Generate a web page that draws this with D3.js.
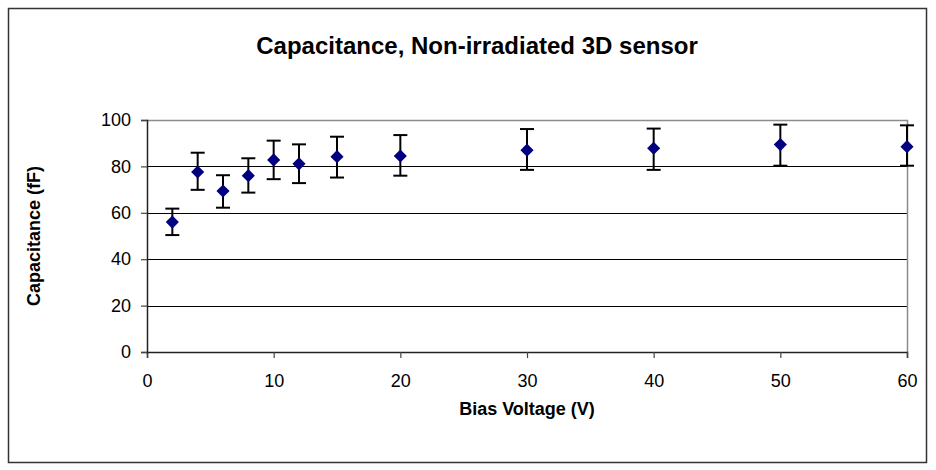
<!DOCTYPE html>
<html>
<head>
<meta charset="utf-8">
<script src="https://cdn.jsdelivr.net/npm/d3@7"></script>
<style>
  body { margin: 0; background: #fff; }
  svg { display: block; font-family: "Liberation Sans", Arial, sans-serif; }
</style>
</head>
<body>
<svg id="chart" width="936" height="470"></svg>
<script>
// data
var voltage = [2, 4, 6, 8, 10, 12, 15, 20, 30, 40, 50, 60]
var capacitance = [56.0, 77.6, 69.4, 76.0, 82.8, 81.1, 84.2, 84.5, 87.0, 87.8, 89.4, 88.5]
var errPlus = [5.8, 8.3, 6.8, 7.5, 8.3, 8.4, 8.6, 9.0, 9.1, 8.5, 8.6, 9.2]
var errMinus = [5.6, 7.7, 7.2, 7.3, 8.3, 8.3, 9.0, 8.5, 8.5, 9.3, 9.1, 8.2]
var xTicks = [0, 10, 20, 30, 40, 50, 60]
var yTicks = [0, 20, 40, 60, 80, 100]

const chart = {
    width: 936,
    height: 470,
    margin_top: 120,
    margin_right: 29,
    margin_bottom: 118,
    margin_left: 147
}

var svg = d3.select("#chart")

// outer frame
svg.append("rect")
    .attr("x", 8.5).attr("y", 8.5)
    .attr("width", 918).attr("height", 454)
    .attr("fill", "none")
    .attr("stroke", "#333")
    .attr("stroke-width", 1.5)

var xScale = d3.scaleLinear().domain([0, 60]).range([chart.margin_left, chart.width - chart.margin_right])
var yScale = d3.scaleLinear().domain([0, 100]).range([chart.height - chart.margin_bottom, chart.margin_top])

// gridlines
svg.append("g")
    .selectAll("line")
    .data(yTicks.slice(1, -1))
    .join("line")
        .attr("x1", xScale(0)).attr("x2", xScale(60))
        .attr("y1", d => Math.round(yScale(d)) + 0.5)
        .attr("y2", d => Math.round(yScale(d)) + 0.5)
        .attr("stroke", "#000")
        .attr("stroke-width", 1)

// plot area border (top + right)
svg.append("path")
    .attr("d", "M" + xScale(0) + "," + (Math.round(yScale(100)) + 0.5) + "H" + (Math.round(xScale(60)) + 0.5) + "V" + yScale(0))
    .attr("fill", "none")
    .attr("stroke", "#8c8c8c")
    .attr("stroke-width", 1.5)

// axes
x_axis = svg.append("g")
    .attr("transform", "translate(0," + yScale(0) + ")")
    .call(d3.axisBottom(xScale).tickValues(xTicks).tickSize(6).tickPadding(16))
x_axis.select(".domain").attr("stroke", "#222").attr("stroke-width", 1.5)
x_axis.selectAll(".tick line").attr("stroke", "#444").attr("stroke-width", 1.2)
x_axis.selectAll("text").attr("font-size", 18).attr("fill", "#000").attr("font-family", "Liberation Sans, Arial")

y_axis = svg.append("g")
    .attr("transform", "translate(" + xScale(0) + ",0)")
    .call(d3.axisLeft(yScale).tickValues(yTicks).tickSize(6).tickPadding(10))
y_axis.select(".domain").attr("stroke", "#222").attr("stroke-width", 1.5)
y_axis.selectAll(".tick line").attr("stroke", "#444").attr("stroke-width", 1.2)
y_axis.selectAll("text").attr("font-size", 18).attr("fill", "#000").attr("font-family", "Liberation Sans, Arial")

// error bars
var errs = svg.append("g")
    .selectAll("g")
    .data(voltage.map((v, i) => ({v: v, c: capacitance[i], hi: capacitance[i] + errPlus[i], lo: capacitance[i] - errMinus[i]})))
    .join("g")
errs.append("line")
    .attr("x1", d => xScale(d.v)).attr("x2", d => xScale(d.v))
    .attr("y1", d => yScale(d.hi)).attr("y2", d => yScale(d.lo))
    .attr("stroke", "#000").attr("stroke-width", 2)
errs.selectAll(".cap")
    .data(d => [{v: d.v, y: d.hi}, {v: d.v, y: d.lo}])
    .join("line")
        .attr("class", "cap")
        .attr("x1", d => xScale(d.v) - 7).attr("x2", d => xScale(d.v) + 7)
        .attr("y1", d => yScale(d.y)).attr("y2", d => yScale(d.y))
        .attr("stroke", "#000").attr("stroke-width", 2)

// markers
svg.append("g")
    .selectAll("path")
    .data(voltage.map((v, i) => ({v: v, c: capacitance[i]})))
    .join("path")
        .attr("d", d3.symbol(d3.symbolDiamond2, 110))
        .attr("transform", d => "translate(" + xScale(d.v) + "," + yScale(d.c) + ")")
        .attr("fill", "#000080")

// labels
svg.append("text")
    .attr("x", 477).attr("y", 54)
    .attr("text-anchor", "middle")
    .attr("font-size", 24).attr("font-weight", "bold")
    .text("Capacitance, Non-irradiated 3D sensor")

svg.append("text")
    .attr("x", (xScale(0) + xScale(60)) / 2).attr("y", 415)
    .attr("text-anchor", "middle")
    .attr("font-size", 18).attr("font-weight", "bold")
    .text("Bias Voltage (V)")

svg.append("text")
    .attr("transform", "translate(40," + yScale(50) + ") rotate(-90)")
    .attr("text-anchor", "middle")
    .attr("font-size", 18).attr("font-weight", "bold")
    .text("Capacitance (fF)")
</script>
</body>
</html>
